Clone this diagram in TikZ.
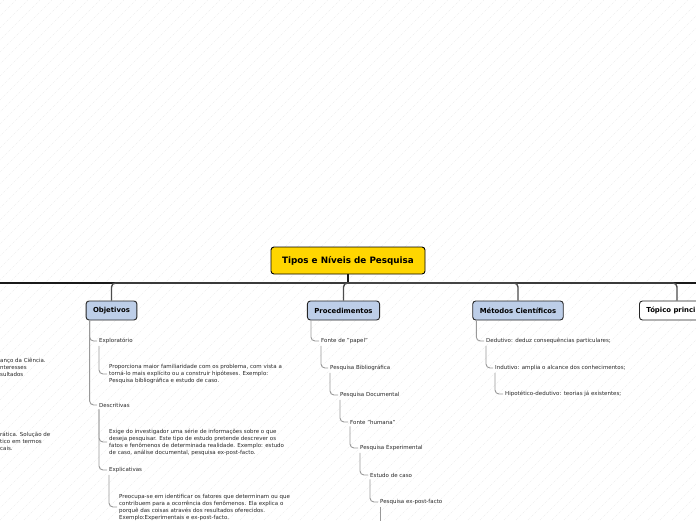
\documentclass[tikz,border=0pt]{standalone}
\usepackage{fontspec}
\setmainfont{DejaVu Sans}
\definecolor{mapgold}{RGB}{255,214,0}
\definecolor{mapblue}{RGB}{189,206,232}
\begin{document}
\begin{tikzpicture}[x=1pt,y=-1pt,
  hatch/.style={draw=black!7,line width=.5pt,dash pattern=on 1pt off 1pt},
  topic/.style={draw=black!85,fill=#1,rounded corners=3pt,line width=.9pt,minimum height=19pt,inner xsep=7pt,font=\bfseries\fontsize{6.9}{8}\selectfont},
  leaf/.style={inner sep=2pt,font=\fontsize{5.5}{7}\selectfont,text=black!85},
  para/.style={leaf,align=left},
  trunk/.style={draw=black!90,line width=1.6pt},
  drop/.style={draw=black!70,line width=1.4pt,rounded corners=4pt},
  sub/.style={draw=black!40,line width=.9pt,rounded corners=4pt}]
\useasboundingbox (0,0) rectangle (696,520);
\clip (0,0) rectangle (696,520);
\foreach \k in {-528,-516,...,696} {\draw[hatch] (\k,520) -- ++(520,-520);}
% central topic
\node[draw=black,fill=mapgold,rounded corners=3pt,line width=.9pt,minimum width=154pt,minimum height=27pt,font=\bfseries\fontsize{8.8}{10}\selectfont] (main) at (348,260.5) {Tipos e Níveis de Pesquisa};
\coordinate (hub) at (348,283);
\coordinate (offl) at (-20,283);
\coordinate (offr) at (720,283);
\draw[trunk] (offl) -- (offr);
\draw[trunk] (main.south) -- (hub);
% main topics
\node[topic=mapblue] (obj) at (111.5,310.5) {Objetivos};
\node[topic=mapblue] (proc) at (343.5,310.5) {Procedimentos};
\node[topic=mapblue] (met) at (518,310.5) {Métodos Científicos};
\node[topic=white,anchor=west] (topico) at (639,310.5) {Tópico principal};
\draw[drop] (hub) -| (obj.north);
\draw[drop] (hub) -| (proc.north);
\draw[drop] (hub) -| (met.north);
\draw[drop] (hub) -| (topico.north);
% cut-off texts on the left
\node[para,anchor=west] (puratxt) at (-2,367) {anço da Ciência.\\nteresses\\sultados};
\node[para,anchor=west] (aplictxt) at (-2,441) {rática. Solução de\\tico em termos\\cais.};
% Objetivos
\node[leaf,anchor=west] (explo) at (97,341) {Exploratório};
\node[para,anchor=west] (explotxt) at (107,374) {Proporciona maior familiaridade com os problema, com vista a\\torná-lo mais explícito ou a construir hipóteses. Exemplo:\\Pesquisa bibliográfica e estudo de caso.};
\node[leaf,anchor=west] (desc) at (97,405) {Descritivas};
\node[para,anchor=west] (desctxt) at (107,442) {Exige do investigador uma série de informações sobre o que\\deseja pesquisar. Este tipo de estudo pretende descrever os\\fatos e fenômenos de determinada realidade. Exemplo: estudo\\de caso, análise documental, pesquisa ex-post-facto.};
\node[leaf,anchor=west] (expl) at (107,470) {Explicativas};
\node[para,anchor=west] (expltxt) at (117,507) {Preocupa-se em identificar os fatores que determinam ou que\\contribuem para a ocorrência dos fenômenos. Ela explica o\\porquê das coisas através dos resultados oferecidos.\\Exemplo:Experimentais e ex-post-facto.};
\draw[sub] ([xshift=4pt]obj.south west) |- (explo.west);
\draw[sub] ([xshift=4pt]obj.south west) |- (desc.west);
\draw[sub] ([xshift=2pt]explo.south west) |- (explotxt.west);
\draw[sub] ([xshift=2pt]desc.south west) |- (desctxt.west);
\draw[sub] ([xshift=2pt]desc.south west) |- (expl.west);
\draw[sub] ([xshift=2pt]expl.south west) |- (expltxt.west);
% Procedimentos
\node[leaf,anchor=west] (papel) at (319,341) {Fonte de "papel"};
\node[leaf,anchor=west] (biblio) at (328,368) {Pesquisa Bibliográfica};
\node[leaf,anchor=west] (docum) at (338,395) {Pesquisa Documental};
\node[leaf,anchor=west] (humana) at (348,422) {Fonte "humana"};
\node[leaf,anchor=west] (exper) at (358,448) {Pesquisa Experimental};
\node[leaf,anchor=west] (caso) at (368,475) {Estudo de caso};
\node[leaf,anchor=west] (expost) at (378,502) {Pesquisa ex-post-facto};
\coordinate (next) at (380,540);
\draw[sub] ([xshift=4pt]proc.south west) |- (papel.west);
\draw[sub] ([xshift=2pt]papel.south west) |- (biblio.west);
\draw[sub] ([xshift=2pt]biblio.south west) |- (docum.west);
\draw[sub] ([xshift=2pt]docum.south west) |- (humana.west);
\draw[sub] ([xshift=2pt]humana.south west) |- (exper.west);
\draw[sub] ([xshift=2pt]exper.south west) |- (caso.west);
\draw[sub] ([xshift=2pt]caso.south west) |- (expost.west);
\draw[sub] ([xshift=2pt]expost.south west) -- (next);
% Metodos
\node[leaf,anchor=west] (dedu) at (484,341) {Dedutivo: deduz consequências particulares;};
\node[leaf,anchor=west] (indu) at (493,368) {Indutivo: amplia o alcance dos conhecimentos;};
\node[leaf,anchor=west] (hipo) at (503,394) {Hipotético-dedutivo: teorias já existentes;};
\draw[sub] ([xshift=4pt]met.south west) |- (dedu.west);
\draw[sub] ([xshift=2pt]dedu.south west) |- (indu.west);
\draw[sub] ([xshift=2pt]indu.south west) |- (hipo.west);
\end{tikzpicture}
\end{document}
